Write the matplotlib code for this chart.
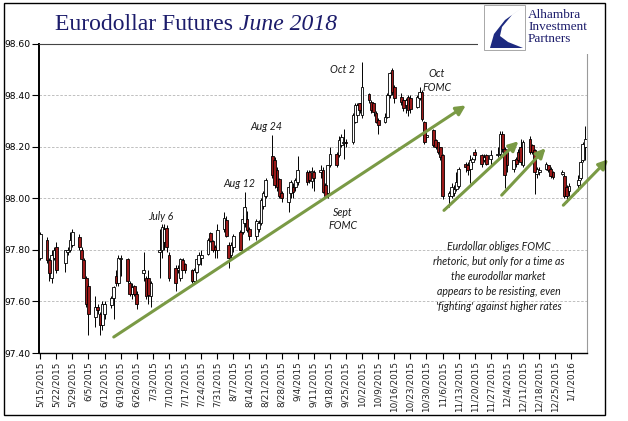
import matplotlib
matplotlib.use('Agg')
import matplotlib.pyplot as plt
import matplotlib.dates as mdates
import numpy as np
import pandas as pd
from matplotlib.patches import Rectangle, Polygon

# 每日数据 (开, 高, 低, 收)
dates = ['5/15/2015', '5/18/2015', '5/19/2015', '5/20/2015', '5/21/2015', '5/22/2015',
         '5/26/2015', '5/27/2015', '5/28/2015', '5/29/2015',
         '6/1/2015', '6/2/2015', '6/3/2015', '6/4/2015', '6/5/2015',
         '6/8/2015', '6/9/2015', '6/10/2015', '6/11/2015', '6/12/2015',
         '6/15/2015', '6/16/2015', '6/17/2015', '6/18/2015', '6/19/2015',
         '6/22/2015', '6/23/2015', '6/24/2015', '6/25/2015', '6/26/2015',
         '6/29/2015', '6/30/2015', '7/1/2015', '7/2/2015',
         '7/6/2015', '7/7/2015', '7/8/2015', '7/9/2015', '7/10/2015',
         '7/13/2015', '7/14/2015', '7/15/2015', '7/16/2015', '7/17/2015',
         '7/20/2015', '7/21/2015', '7/22/2015', '7/23/2015', '7/24/2015',
         '7/27/2015', '7/28/2015', '7/29/2015', '7/30/2015', '7/31/2015',
         '8/3/2015', '8/4/2015', '8/5/2015', '8/6/2015', '8/7/2015',
         '8/10/2015', '8/11/2015', '8/12/2015', '8/13/2015', '8/14/2015',
         '8/17/2015', '8/18/2015', '8/19/2015', '8/20/2015', '8/21/2015',
         '8/24/2015', '8/25/2015', '8/26/2015', '8/27/2015', '8/28/2015',
         '8/31/2015', '9/1/2015', '9/2/2015', '9/3/2015', '9/4/2015',
         '9/8/2015', '9/9/2015', '9/10/2015', '9/11/2015',
         '9/14/2015', '9/15/2015', '9/16/2015', '9/17/2015', '9/18/2015',
         '9/21/2015', '9/22/2015', '9/23/2015', '9/24/2015', '9/25/2015',
         '9/28/2015', '9/29/2015', '9/30/2015', '10/1/2015', '10/2/2015',
         '10/5/2015', '10/6/2015', '10/7/2015', '10/8/2015', '10/9/2015',
         '10/12/2015', '10/13/2015', '10/14/2015', '10/15/2015', '10/16/2015',
         '10/19/2015', '10/20/2015', '10/21/2015', '10/22/2015', '10/23/2015',
         '10/26/2015', '10/27/2015', '10/28/2015', '10/29/2015', '10/30/2015',
         '11/2/2015', '11/3/2015', '11/4/2015', '11/5/2015', '11/6/2015',
         '11/9/2015', '11/10/2015', '11/11/2015', '11/12/2015', '11/13/2015',
         '11/16/2015', '11/17/2015', '11/18/2015', '11/19/2015', '11/20/2015',
         '11/23/2015', '11/24/2015', '11/25/2015', '11/27/2015',
         '11/30/2015', '12/1/2015', '12/2/2015', '12/3/2015', '12/4/2015',
         '12/7/2015', '12/8/2015', '12/9/2015', '12/10/2015', '12/11/2015',
         '12/14/2015', '12/15/2015', '12/16/2015', '12/17/2015', '12/18/2015',
         '12/21/2015', '12/22/2015', '12/23/2015', '12/24/2015',
         '12/28/2015', '12/29/2015', '12/30/2015', '12/31/2015',
         '1/4/2016', '1/5/2016', '1/6/2016', '1/7/2016']

opens = [97.77, 97.84, 97.76, 97.69, 97.77, 97.81,
         97.75, 97.79, 97.80, 97.82,
         97.85, 97.80, 97.76, 97.69, 97.66,
         97.54, 97.58, 97.55, 97.51, 97.55,
         97.585, 97.615, 97.70, 97.67, 97.765,
         97.765, 97.67, 97.63, 97.66, 97.63,
         97.71, 97.69, 97.69, 97.62,
         97.79, 97.80, 97.83, 97.885, 97.78,
         97.73, 97.72, 97.69, 97.76, 97.745,
         97.72, 97.68, 97.715, 97.745, 97.77,
         97.785, 97.865, 97.835, 97.81, 97.80,
         97.88, 97.915, 97.82, 97.78, 97.81,
         97.87, 97.87, 97.905, 97.92, 97.88,
         97.855, 97.88, 97.905, 97.97, 98.01,
         98.165, 98.15, 98.11, 98.075, 98.02,
         97.985, 98.02, 98.043, 98.043, 98.062,
         98.10, 98.10, 98.065, 98.10,
         98.10, 98.11, 98.05, 98.02, 98.13,
         98.173, 98.166, 98.205, 98.215, 98.22,
         98.218, 98.296, 98.322, 98.368, 98.322,
         98.406, 98.374, 98.368, 98.329, 98.303,
         98.296, 98.316, 98.40, 98.497, 98.432,
         98.394, 98.381, 98.36, 98.394, 98.39,
         98.355, 98.39, 98.413, 98.296, 98.238,
         98.264, 98.225, 98.218, 98.199, 98.166,
         98.01, 98.01, 98.02, 98.036, 98.049,
         98.134, 98.13, 98.114, 98.14, 98.179,
         98.166, 98.147, 98.166, 98.153,
         98.166, 98.17, 98.25, 98.19, 98.18,
         98.114, 98.153, 98.179, 98.199, 98.127,
         98.231, 98.205, 98.186, 98.095, 98.10,
         98.114, 98.127, 98.114, 98.101,
         98.095, 98.088, 98.043, 98.03,
         98.05, 98.08, 98.15, 98.20]

highs = [97.87, 97.85, 97.77, 97.80, 97.81, 97.83,
         97.80, 97.81, 97.87, 97.88,
         97.86, 97.81, 97.77, 97.70, 97.67,
         97.62, 97.59, 97.56, 97.60, 97.60,
         97.62, 97.66, 97.72, 97.78, 97.78,
         97.77, 97.68, 97.67, 97.665, 97.64,
         97.79, 97.70, 97.72, 97.68,
         97.88, 97.90, 97.90, 97.895, 97.79,
         97.74, 97.74, 97.77, 97.77, 97.75,
         97.725, 97.73, 97.77, 97.79, 97.80,
         97.845, 97.87, 97.84, 97.82, 97.90,
         97.945, 97.93, 97.83, 97.83, 97.86,
         97.875, 97.935, 98.025, 97.95, 97.89,
         97.92, 97.915, 98.00, 98.03, 98.08,
         98.245, 98.16, 98.12, 98.08, 98.03,
         98.05, 98.07, 98.06, 98.08, 98.165,
         98.11, 98.11, 98.12, 98.11,
         98.13, 98.12, 98.06, 98.13, 98.20,
         98.18, 98.24, 98.25, 98.27, 98.23,
         98.33, 98.37, 98.37, 98.37, 98.53,
         98.41, 98.38, 98.37, 98.34, 98.31,
         98.33, 98.41, 98.49, 98.504, 98.44,
         98.41, 98.39, 98.39, 98.40, 98.40,
         98.40, 98.43, 98.42, 98.30, 98.25,
         98.27, 98.23, 98.22, 98.20, 98.17,
         98.03, 98.06, 98.05, 98.10, 98.12,
         98.14, 98.14, 98.166, 98.16, 98.19,
         98.17, 98.17, 98.17, 98.186,
         98.20, 98.26, 98.26, 98.20, 98.19,
         98.15, 98.16, 98.19, 98.23, 98.225,
         98.24, 98.21, 98.19, 98.12, 98.12,
         98.14, 98.13, 98.12, 98.105,
         98.108, 98.095, 98.05, 98.06,
         98.09, 98.15, 98.22, 98.28]

lows = [97.76, 97.75, 97.68, 97.67, 97.76, 97.71,
        97.715, 97.78, 97.79, 97.81,
        97.80, 97.76, 97.69, 97.58, 97.47,
        97.50, 97.55, 97.47, 97.49, 97.53,
        97.575, 97.53, 97.66, 97.66, 97.70,
        97.67, 97.62, 97.61, 97.62, 97.57,
        97.68, 97.61, 97.59, 97.58,
        97.69, 97.77, 97.80, 97.79, 97.68,
        97.64, 97.71, 97.68, 97.72, 97.71,
        97.67, 97.67, 97.71, 97.74, 97.74,
        97.78, 97.83, 97.79, 97.77, 97.77,
        97.87, 97.85, 97.73, 97.76, 97.79,
        97.80, 97.86, 97.89, 97.87, 97.84,
        97.84, 97.87, 97.895, 97.96, 98.00,
        98.08, 98.04, 98.03, 98.00, 97.985,
        97.945, 98.00, 98.00, 98.03, 98.05,
        98.05, 98.06, 98.04, 98.03,
        98.08, 98.02, 98.00, 98.00, 98.12,
        98.12, 98.16, 98.20, 98.153, 98.20,
        98.21, 98.29, 98.31, 98.33, 98.31,
        98.37, 98.33, 98.32, 98.29, 98.251,
        98.29, 98.31, 98.39, 98.40, 98.37,
        98.36, 98.34, 98.33, 98.32, 98.33,
        98.35, 98.38, 98.30, 98.21, 98.225,
        98.20, 98.19, 98.17, 98.15, 97.997,
        97.965, 98.00, 98.01, 98.03, 98.04,
        98.10, 98.09, 98.06, 98.13, 98.15,
        98.12, 98.14, 98.13, 98.127,
        98.16, 98.16, 98.18, 98.04, 98.10,
        98.10, 98.12, 98.14, 98.13, 98.12,
        98.17, 98.17, 98.017, 98.08, 98.09,
        98.11, 98.10, 98.08, 98.075,
        98.09, 98.00, 97.984, 98.01,
        98.03, 98.07, 98.14, 98.15]

closes = [97.86, 97.76, 97.71, 97.78, 97.80, 97.72,
          97.80, 97.80, 97.84, 97.87,
          97.81, 97.765, 97.69, 97.59, 97.55,
          97.58, 97.565, 97.51, 97.59, 97.59,
          97.615, 97.655, 97.67, 97.77, 97.77,
          97.68, 97.63, 97.655, 97.63, 97.59,
          97.72, 97.62, 97.625, 97.67,
          97.80, 97.89, 97.88, 97.81, 97.69,
          97.67, 97.73, 97.765, 97.72, 97.72,
          97.68, 97.72, 97.765, 97.78, 97.78,
          97.84, 97.835, 97.80, 97.80, 97.875,
          97.925, 97.855, 97.77, 97.82, 97.855,
          97.80, 97.92, 97.965, 97.875, 97.855,
          97.91, 97.905, 97.995, 98.02, 98.07,
          98.09, 98.05, 98.045, 98.01, 98.00,
          98.043, 98.062, 98.023, 98.07, 98.108,
          98.062, 98.07, 98.105, 98.08,
          98.108, 98.025, 98.01, 98.127, 98.173,
          98.127, 98.225, 98.238, 98.22, 98.215,
          98.322, 98.361, 98.361, 98.342, 98.432,
          98.381, 98.342, 98.335, 98.296, 98.283,
          98.316, 98.40, 98.484, 98.413, 98.387,
          98.374, 98.348, 98.38, 98.342, 98.345,
          98.394, 98.413, 98.309, 98.218, 98.244,
          98.205, 98.199, 98.179, 98.16, 98.01,
          98.02, 98.043, 98.036, 98.062, 98.114,
          98.121, 98.108, 98.147, 98.153, 98.166,
          98.134, 98.16, 98.134, 98.166,
          98.173, 98.25, 98.19, 98.09, 98.13,
          98.147, 98.134, 98.147, 98.14, 98.218,
          98.179, 98.179, 98.101, 98.114, 98.108,
          98.134, 98.108, 98.088, 98.082,
          98.101, 98.01, 98.01, 98.049,
          98.07, 98.14, 98.21, 98.23]

W, H = 628, 421


def fx(x):
    return x / W


def fy(y):
    return 1 - y / H


def dn(s):
    return mdates.date2num(pd.Timestamp(s))


fig = plt.figure(figsize=(6.28, 4.21), dpi=100)
ax = fig.add_axes([fx(39), fy(353), fx(587) - fx(39), fy(43.5) - fy(353)])

d = mdates.date2num(pd.to_datetime(dates, format='%m/%d/%Y'))
o = np.array(opens)
hi = np.array(highs)
lo = np.array(lows)
c = np.array(closes)
up = c >= o
bot = np.minimum(o, c)
hgt = np.maximum(np.abs(c - o), 0.004)

# 蜡烛图
ax.vlines(d, lo, hi, color='black', lw=0.7, zorder=2)
ax.bar(d[up], hgt[up], bottom=bot[up], width=1.2, facecolor='white',
       edgecolor='black', lw=0.6, zorder=3)
ax.bar(d[~up], hgt[~up], bottom=bot[~up], width=1.2, facecolor='#9c1a1a',
       edgecolor='black', lw=0.6, zorder=3)

ax.set_xlim(dn('2015-05-15') - 0.5, dn('2016-01-07') + 0.8)
ax.set_ylim(97.40, 98.60)
ax.set_yticks(np.arange(97.40, 98.61, 0.2))
ax.set_yticklabels(['%.2f' % v for v in np.arange(97.40, 98.61, 0.2)],
                   fontsize=6.6, family='DejaVu Sans')
ticks = pd.date_range('2015-05-15', '2016-01-01', freq='7D')
ax.set_xticks(mdates.date2num(ticks))
ax.set_xticklabels(['%d/%d/%d' % (t.month, t.day, t.year) for t in ticks],
                   rotation=90, fontsize=6.4, family='DejaVu Sans', color='#222222')
ax.tick_params(axis='y', length=5, width=0.8, pad=1)
ax.tick_params(axis='x', length=4, width=0.8, pad=2)
ax.yaxis.grid(True, ls=(0, (3, 2)), color='#b5b5b5', lw=0.6)
ax.set_axisbelow(True)
ax.spines['left'].set_linewidth(1.4)
ax.spines['bottom'].set_linewidth(1.0)
ax.spines['right'].set_color('#9a9a9a')
ax.spines['top'].set_color('#444444')

green = '#7a9a45'
arr = dict(arrowstyle='-|>,head_length=0.7,head_width=0.35', color=green, lw=2.2,
           shrinkA=0, shrinkB=0, mutation_scale=8)
ax.annotate('', xy=(dn('2015-11-16') + 0.1, 98.36), xytext=(dn('2015-06-16'), 97.462),
            arrowprops=arr, annotation_clip=False, zorder=4)
ax.annotate('', xy=(dn('2015-12-09'), 98.221), xytext=(dn('2015-11-06') + 0.6, 97.953),
            arrowprops=arr, annotation_clip=False, zorder=4)
ax.annotate('', xy=(dn('2015-12-20') + 0.8, 98.194), xytext=(dn('2015-12-01') + 0.7, 98.012),
            arrowprops=arr, annotation_clip=False, zorder=4)
ax.annotate('', xy=(dn('2016-01-17'), 98.151), xytext=(dn('2015-12-28') + 0.5, 97.973),
            arrowprops=arr, annotation_clip=False, zorder=4)

lab = dict(fontsize=7.6, style='italic', family='Lato', color='#1a1a1a',
           ha='center', va='center', zorder=5)
ax.text(dn('2015-07-06') + 0.3, 97.930, 'July 6', **lab)
ax.text(dn('2015-08-09') + 0.5, 98.058, 'Aug 12', **lab)
ax.text(dn('2015-08-21') + 0.2, 98.279, 'Aug 24', **lab)
ax.text(dn('2015-09-23') + 0.5, 98.499, 'Oct 2', **lab)
ax.text(dn('2015-09-23') + 0.5, 97.919, 'Sept\nFOMC', linespacing=1.3, **lab)
ax.text(dn('2015-11-03') + 0.6, 98.457, 'Oct\nFOMC', linespacing=1.3, **lab)
ax.text(dn('2015-11-30') + 0.4, 97.698,
        "Eurdollar obliges FOMC\nrhetoric, but only for a time as\nthe eurodollar market\n"
        "appears to be resisting, even\n'fighting' against higher rates",
        linespacing=1.45, **lab)

# 标题
t1 = fig.text(fx(55), fy(24), 'Eurodollar Futures ', fontsize=17, family='Liberation Serif',
              color='#1c1c6b', va='center', ha='left')
fig.canvas.draw()
bb = t1.get_window_extent()
fig.text(bb.x1 / (W), fy(24), 'June 2018', fontsize=17, family='Liberation Serif',
         style='italic', color='#1c1c6b', va='center', ha='left')

# 标志
fig.patches.append(Rectangle((fx(478), fy(54)), fx(612) - fx(478), fy(1) - fy(54),
                             transform=fig.transFigure, facecolor='white',
                             edgecolor='none', zorder=6))
fig.patches.append(Rectangle((fx(484), fy(50)), fx(525) - fx(484), fy(5) - fy(50),
                             transform=fig.transFigure, facecolor='white',
                             edgecolor='#9a9a9a', lw=0.6, zorder=7))
logo = [(523, 7), (505, 20), (494, 34), (490, 48), (523, 48), (508, 42), (500, 36),
        (502, 27), (512, 15)]
fig.patches.append(Polygon([(fx(a), fy(b)) for a, b in logo], closed=True,
                           transform=fig.transFigure, facecolor='#1d2a80',
                           edgecolor='none', zorder=8))
fig.text(fx(528), fy(27), 'Alhambra\nInvestment\nPartners', fontsize=9.5,
         family='Liberation Serif', color='#1c1c6b', va='center', ha='left',
         linespacing=0.95, zorder=8)

# 外框
fig.patches.append(Rectangle((fx(4), fy(415)), fx(605) - fx(4), fy(3) - fy(415),
                             transform=fig.transFigure, facecolor='none',
                             edgecolor='black', lw=1.0, zorder=9))

fig.savefig('out.png', dpi=100)
